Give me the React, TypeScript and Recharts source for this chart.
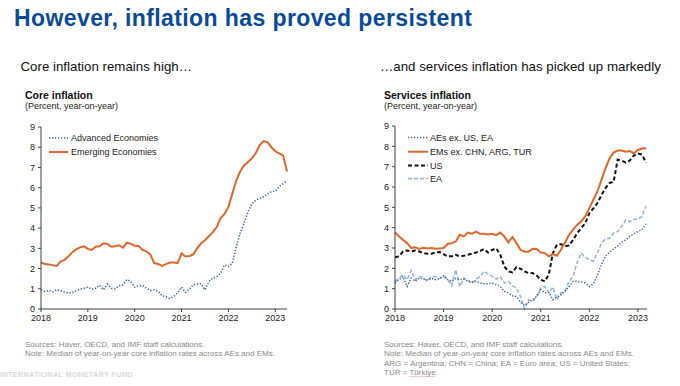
import React from 'react';
import { LineChart, Line, XAxis, YAxis } from 'recharts';

const FONT = '"Liberation Sans", Arial, Helvetica, sans-serif';
const ORANGE = '#e0672a';
const NAVY = '#3f679c';
const LIGHT_BLUE = '#92b5dc';
const AXIS = '#404040';

// x-axis tick labels (Jan of each year) and y ticks
const yearTicks = ['2018', '2019', '2020', '2021', '2022', '2023'];
const yTicks = [0, 1, 2, 3, 4, 5, 6, 7, 8, 9];

// Core inflation, Jan 2018 - Apr 2023 (monthly)
const coreAdvanced = [
  0.95, 0.87, 0.92, 0.85, 0.95, 0.9, 0.84, 0.79, 0.82, 0.9, 0.98, 1.02,
  1.08, 0.98, 1.03, 1.17, 0.95, 1.23, 1.03, 1.0, 1.15, 1.2, 1.45, 1.36,
  1.08, 1.15, 1.17, 1.03, 0.92, 0.95, 0.87, 0.66, 0.6, 0.52, 0.62, 0.79,
  1.08, 0.82, 0.98, 1.2, 1.23, 1.25, 0.95, 1.36, 1.53, 1.6, 1.77, 2.17,
  2.1, 2.27, 3.08, 3.75, 4.25, 4.8, 5.2, 5.38, 5.47, 5.55, 5.7, 5.8,
  5.83, 6.05, 6.2, 6.35,
];
const coreEmerging = [
  2.3, 2.22, 2.2, 2.17, 2.13, 2.35, 2.43, 2.6, 2.8, 2.95, 3.05, 3.1,
  2.97, 2.92, 3.08, 3.1, 3.25, 3.22, 3.08, 3.1, 3.15, 3.03, 3.28, 3.22,
  3.13, 3.12, 2.92, 2.85, 2.7, 2.27, 2.23, 2.13, 2.22, 2.3, 2.3, 2.27,
  2.75, 2.6, 2.62, 2.7, 3.0, 3.25, 3.4, 3.6, 3.8, 4.05, 4.5, 4.7,
  5.05, 5.7, 6.35, 6.8, 7.1, 7.27, 7.45, 7.7, 8.1, 8.3, 8.25, 8.0,
  7.8, 7.7, 7.6, 6.8,
];

// Services inflation, Jan 2018 - Mar 2023 (monthly)
const servAEsEx = [
  1.28, 1.44, 1.6, 1.11, 1.52, 1.36, 1.52, 1.47, 1.44, 1.52, 1.44, 1.49,
  1.64, 1.44, 1.36, 1.5, 1.44, 1.47, 1.36, 1.33, 1.36, 1.28, 1.24, 1.24,
  1.28, 1.2, 1.11, 0.87, 0.79, 0.65, 0.62, 0.33, 0.18, 0.33, 0.46, 0.62,
  0.95, 0.79, 0.82, 0.46, 0.59, 0.7, 0.87, 1.11, 1.36, 1.36, 1.33, 1.28,
  1.11, 1.24, 1.65, 2.2, 2.6, 2.8, 2.95, 3.1, 3.29, 3.4, 3.57, 3.7,
  3.81, 3.9, 4.19,
];
const servEMsEx = [
  3.76, 3.57, 3.4, 3.24, 3.0, 3.03, 2.95, 3.01, 2.98, 3.0, 2.96, 2.98,
  3.0, 3.2, 3.24, 3.32, 3.65, 3.57, 3.76, 3.7, 3.81, 3.7, 3.7, 3.67,
  3.7, 3.63, 3.76, 3.57, 3.27, 3.54, 3.24, 2.91, 2.82, 2.82, 2.96, 2.95,
  2.78, 2.75, 2.59, 2.7, 2.62, 2.91, 3.27, 3.65, 3.9, 4.14, 4.3, 4.55,
  4.96, 5.37, 5.78, 6.35, 6.92, 7.41, 7.69, 7.79, 7.79, 7.74, 7.77, 7.66,
  7.82, 7.89, 7.9,
];
const servUS = [
  2.55, 2.59, 2.83, 2.88, 2.83, 2.88, 2.83, 2.75, 2.72, 2.72, 2.78, 2.8,
  2.7, 2.59, 2.59, 2.67, 2.59, 2.62, 2.67, 2.72, 2.78, 2.85, 2.95, 2.78,
  2.91, 2.98, 2.67, 2.09, 1.85, 1.8, 2.06, 1.98, 1.85, 1.77, 1.77, 1.64,
  1.44, 1.36, 1.69, 2.75, 3.16, 3.19, 3.08, 3.13, 3.4, 3.73, 3.98, 4.22,
  4.7, 4.95, 5.2, 5.6, 5.95, 6.2, 6.25, 7.35, 7.3, 7.2, 7.3, 7.55,
  7.65, 7.6, 7.2,
];
const servEA = [
  1.36, 1.52, 1.69, 1.44, 1.9, 1.44, 1.6, 1.55, 1.36, 1.6, 1.6, 1.49,
  1.6, 1.47, 1.15, 1.93, 1.11, 1.52, 1.44, 1.24, 1.47, 1.6, 1.85, 1.73,
  1.6, 1.47, 1.6, 1.28, 1.36, 1.15, 1.03, 0.62, 0.0, 0.46, 0.38, 0.62,
  1.03, 1.11, 0.79, 1.08, 0.46, 0.79, 0.87, 1.36, 1.6, 2.29, 2.75, 2.54,
  2.42, 2.35, 2.75, 3.24, 3.44, 3.49, 3.73, 3.81, 4.06, 4.39, 4.3, 4.42,
  4.42, 4.55, 5.07,
];

const coreData = coreAdvanced.map((v, i) => ({ i, ae: v, em: coreEmerging[i] }));
const servData = servUS.map((v, i) => ({
  i,
  aes: servAEsEx[i],
  ems: servEMsEx[i],
  us: v,
  ea: servEA[i],
}));

const tickStyle = { fontSize: 9, fill: '#222', fontFamily: FONT };

export default function App() {
  const xTicks = yearTicks.map((_, k) => k * 12);
  const fmt = (v: number) => yearTicks[Math.round(v / 12)] ?? '';

  return (
    <div
      style={{
        position: 'absolute',
        left: 0,
        top: 0,
        width: 680,
        height: 386,
        background: '#fff',
        overflow: 'hidden',
        fontFamily: FONT,
      }}
    >
      {/* Left panel: core inflation */}
      <div style={{ position: 'absolute', left: 0, top: 110 }}>
        <LineChart width={300} height={220} data={coreData} margin={{ top: 17, right: 13, bottom: 1, left: 16 }}>
          <XAxis
            dataKey="i"
            type="number"
            domain={[0, 63]}
            ticks={xTicks}
            interval={0}
            tickFormatter={fmt}
            height={20}
            tick={tickStyle}
            stroke={AXIS}
            tickSize={3}
            tickMargin={3}
          />
          <YAxis
            domain={[0, 9]}
            ticks={yTicks}
            interval={0}
            width={25}
            tick={tickStyle}
            stroke={AXIS}
            tickSize={3}
            tickMargin={3}
          />
          <Line type="linear" dataKey="em" stroke={ORANGE} strokeWidth={2} dot={false} isAnimationActive={false} />
          <Line type="linear" dataKey="ae" stroke={NAVY} strokeWidth={1.6} strokeDasharray="1.3 1.7" dot={false} isAnimationActive={false} />
        </LineChart>
      </div>

      {/* Right panel: services inflation */}
      <div style={{ position: 'absolute', left: 340, top: 110 }}>
        <LineChart width={320} height={220} data={servData} margin={{ top: 16, right: 13, bottom: 1, left: 30 }}>
          <XAxis
            dataKey="i"
            type="number"
            domain={[0, 62.25]}
            ticks={xTicks}
            interval={0}
            tickFormatter={fmt}
            height={20}
            tick={tickStyle}
            stroke={AXIS}
            tickSize={3}
            tickMargin={3}
          />
          <YAxis
            domain={[0, 9]}
            ticks={yTicks}
            interval={0}
            width={25}
            tick={tickStyle}
            stroke={AXIS}
            tickSize={3}
            tickMargin={3}
          />
          <Line type="linear" dataKey="ea" stroke={LIGHT_BLUE} strokeWidth={1.5} strokeDasharray="4 2" dot={false} isAnimationActive={false} />
          <Line type="linear" dataKey="aes" stroke={NAVY} strokeWidth={1.5} strokeDasharray="1.3 1.7" dot={false} isAnimationActive={false} />
          <Line type="linear" dataKey="us" stroke="#111" strokeWidth={2} strokeDasharray="4 2.5" dot={false} isAnimationActive={false} />
          <Line type="linear" dataKey="ems" stroke={ORANGE} strokeWidth={2} dot={false} isAnimationActive={false} />
        </LineChart>
      </div>

      {/* Titles, legends, notes */}
      <svg
        width={680}
        height={386}
        style={{ position: 'absolute', left: 0, top: 0, pointerEvents: 'none' }}
        fontFamily={FONT}
      >
        <text x={14} y={26} fontSize={23} fontWeight="bold" fill="#0a4b98" letterSpacing={0.4}>
          However, inflation has proved persistent
        </text>
        <text x={20.5} y={71} fontSize={13.3} fill="#111">Core inflation remains high…</text>
        <text x={380} y={71} fontSize={13.3} fill="#111">…and services inflation has picked up markedly</text>

        <text x={25} y={98.5} fontSize={10.5} fontWeight="bold" fill="#111">Core inflation</text>
        <text x={25} y={109} fontSize={9} fill="#222">(Percent, year-on-year)</text>
        <text x={384} y={98.5} fontSize={10.5} fontWeight="bold" fill="#111">Services inflation</text>
        <text x={384} y={109} fontSize={9} fill="#222">(Percent, year-on-year)</text>

        {/* left legend */}
        <line x1={49} x2={68} y1={138} y2={138} stroke={NAVY} strokeWidth={1.6} strokeDasharray="1.3 1.7" />
        <text x={71} y={141} fontSize={9} fill="#222">Advanced Economies</text>
        <line x1={49} x2={68} y1={152} y2={152} stroke={ORANGE} strokeWidth={2} />
        <text x={71} y={155.2} fontSize={9} fill="#222">Emerging Economies</text>

        {/* right legend */}
        <line x1={408} x2={428} y1={137.5} y2={137.5} stroke={NAVY} strokeWidth={1.5} strokeDasharray="1.3 1.7" />
        <text x={430} y={140.7} fontSize={9} fill="#222">AEs ex. US, EA</text>
        <line x1={408} x2={428} y1={151.7} y2={151.7} stroke={ORANGE} strokeWidth={2} />
        <text x={430} y={154.9} fontSize={9} fill="#222">EMs ex. CHN, ARG, TUR</text>
        <line x1={408} x2={428} y1={165.5} y2={165.5} stroke="#111" strokeWidth={2} strokeDasharray="4 2.5" />
        <text x={430} y={168.7} fontSize={9} fill="#222">US</text>
        <line x1={408} x2={428} y1={178.5} y2={178.5} stroke={LIGHT_BLUE} strokeWidth={1.5} strokeDasharray="4 2" />
        <text x={430} y={181.7} fontSize={9} fill="#222">EA</text>

        {/* notes */}
        <g fontSize={8} fill="#8a8a8a">
          <text x={25} y={347}>Sources: Haver, OECD, and IMF staff calculations.</text>
          <text x={25} y={356.3}>Note: Median of year-on-year core inflation rates across AEs and EMs.</text>
          <text x={384} y={347}>Sources: Haver, OECD, and IMF staff calculations.</text>
          <text x={384} y={356.3}>Note: Median of year-on-year core inflation rates across AEs and EMs.</text>
          <text x={384} y={365.8}>ARG = Argentina; CHN = China; EA = Euro area; US = United States;</text>
          <text x={384} y={374.5}>TUR = Türkiye.</text>
        </g>
        <line x1={409.5} x2={435.5} y1={376.5} y2={376.5} stroke="#e08080" strokeWidth={0.8} strokeDasharray="1 1" />
        <text x={0} y={377} fontSize={7.5} fontWeight="bold" fill="#d9d9d9" letterSpacing={0.2}>
          INTERNATIONAL MONETARY FUND
        </text>
      </svg>
    </div>
  );
}
